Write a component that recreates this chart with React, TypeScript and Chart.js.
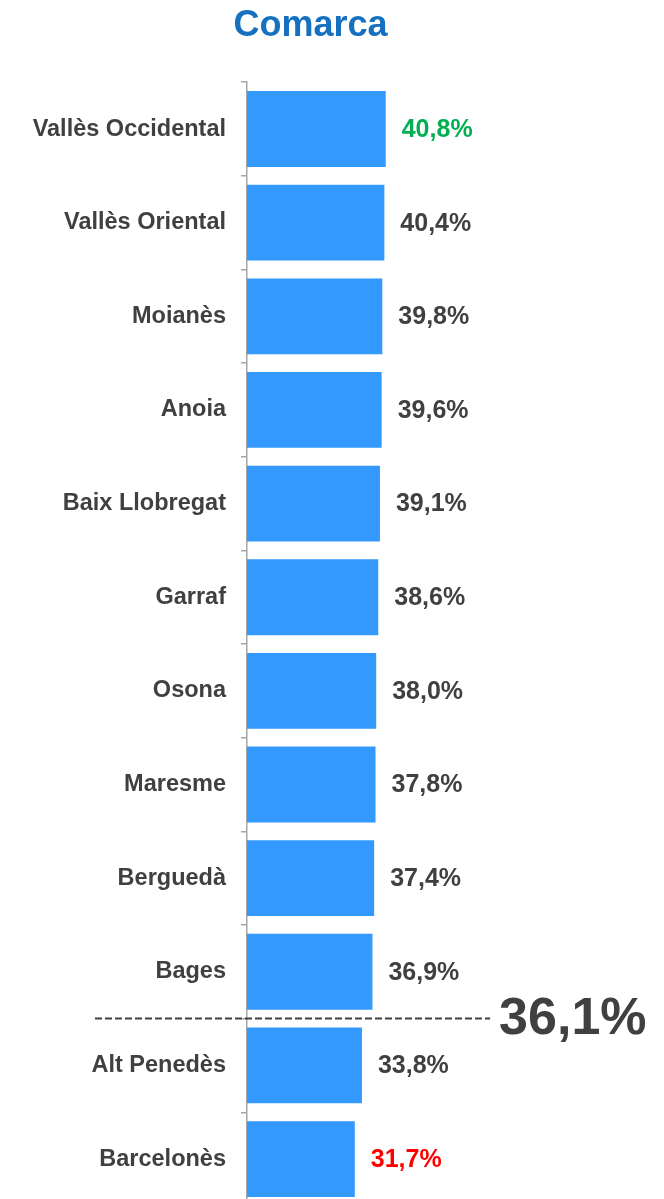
import React, { useEffect, useRef } from "react";
import { Chart, registerables } from "chart.js";

Chart.register(...registerables);

const categories = [
  "Vallès Occidental",
  "Vallès Oriental",
  "Moianès",
  "Anoia",
  "Baix Llobregat",
  "Garraf",
  "Osona",
  "Maresme",
  "Berguedà",
  "Bages",
  "Alt Penedès",
  "Barcelonès",
];
const values = [40.8, 40.4, 39.8, 39.6, 39.1, 38.6, 38.0, 37.8, 37.4, 36.9, 33.8, 31.7];
const average = 36.1;
const title = "Comarca";

const FONT = "'Liberation Sans', Arial, sans-serif";
const TEXT = "#404040";
const fmt = (v: number) => v.toFixed(1).replace(".", ",") + "%";

const valueLabels = {
  id: "valueLabels",
  afterDatasetsDraw(chart: any) {
    const ctx = chart.ctx;
    const meta = chart.getDatasetMeta(0);
    const max = Math.max(...values);
    const min = Math.min(...values);
    ctx.save();
    ctx.font = `bold 25px ${FONT}`;
    ctx.textAlign = "left";
    ctx.textBaseline = "middle";
    meta.data.forEach((bar: any, i: number) => {
      const v = values[i];
      ctx.fillStyle = v === max ? "#00b050" : v === min ? "#ff0000" : TEXT;
      ctx.fillText(fmt(v), bar.x + 16, bar.y + 1);
    });
    ctx.restore();
  },
};

const averageLine = {
  id: "averageLine",
  afterDatasetsDraw(chart: any) {
    const ctx = chart.ctx;
    const y = chart.scales.y;
    const x = chart.scales.x;
    let idx = values.findIndex((v) => v < average);
    if (idx < 0) idx = values.length;
    const py = (y.getPixelForValue(idx - 1) + y.getPixelForValue(idx)) / 2;
    const x0 = chart.chartArea.left - 152;
    const x1 = x.getPixelForValue(71.5);
    ctx.save();
    ctx.strokeStyle = TEXT;
    ctx.lineWidth = 2;
    ctx.setLineDash([7, 3]);
    ctx.beginPath();
    ctx.moveTo(x0, py);
    ctx.lineTo(x1, py);
    ctx.stroke();
    ctx.setLineDash([]);
    ctx.font = `bold 52px ${FONT}`;
    ctx.fillStyle = TEXT;
    ctx.textAlign = "left";
    ctx.textBaseline = "middle";
    ctx.fillText(fmt(average), x1 + 9, py + 1);
    ctx.restore();
  },
};

export default function App() {
  const ref = useRef<HTMLCanvasElement>(null);
  useEffect(() => {
    if (!ref.current) return;
    const chart = new Chart(ref.current, {
      type: "bar",
      data: {
        labels: categories,
        datasets: [
          {
            data: values,
            backgroundColor: "#3399ff",
            borderWidth: 0,
            barPercentage: 0.81,
            categoryPercentage: 1,
          },
        ],
      },
      options: {
        indexAxis: "y",
        responsive: false,
        maintainAspectRatio: false,
        animation: false,
        layout: { padding: { left: 0, right: 43, top: 0, bottom: 1 } },
        plugins: {
          legend: { display: false },
          tooltip: { enabled: false },
          title: {
            display: true,
            text: title,
            color: "#1570c0",
            font: { family: FONT, size: 36, weight: "bold" },
            padding: { top: 4, bottom: 35 },
          },
        },
        scales: {
          x: {
            display: false,
            min: 0,
            max: 110,
          },
          y: {
            offset: true,
            afterFit: (scale: any) => {
              scale.width = 247;
            },
            border: { display: true, color: "#a6a6a6", width: 1.5 },
            grid: {
              offset: true,
              drawOnChartArea: false,
              drawTicks: true,
              tickLength: 6,
              color: "#a6a6a6",
              lineWidth: 1.5,
            },
            ticks: {
              color: TEXT,
              padding: 15,
              font: { family: FONT, size: 23.5, weight: "bold" },
            },
          },
        },
      },
      plugins: [valueLabels, averageLine],
    });
    return () => chart.destroy();
  }, []);
  return (
    <div
      style={{
        position: "absolute",
        left: 0,
        top: 0,
        width: 664,
        height: 1199,
        overflow: "hidden",
        background: "#fff",
      }}
    >
      <canvas
        ref={ref}
        width={664}
        height={1235}
        style={{ display: "block", width: 664, height: 1235 }}
      />
    </div>
  );
}
